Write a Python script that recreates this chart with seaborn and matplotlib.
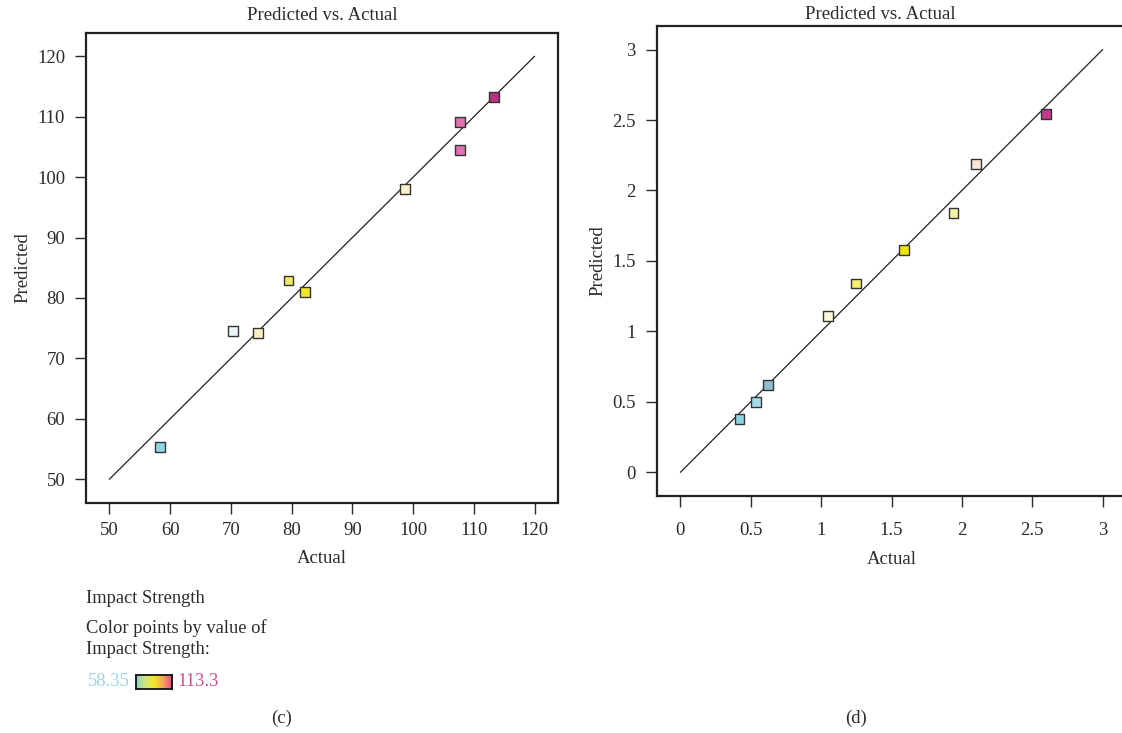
import numpy as np
import pandas as pd
import matplotlib
matplotlib.use("Agg")
import matplotlib.pyplot as plt
from matplotlib.colors import LinearSegmentedColormap
import seaborn as sns

# ---- data ----
c_actual = [58.35, 70.4, 74.5, 79.5, 82.2, 98.7, 107.7, 107.7, 113.3]
c_predicted = [55.3, 74.6, 74.2, 82.9, 81.0, 98.0, 109.1, 104.5, 113.2]
c_colors = ["#8dd5e3", "#eaf4f7", "#f8f0c0", "#f1eb5e", "#f1e72e",
            "#faf0cc", "#e070b0", "#e070b0", "#b8327f"]
c_ticks = [50, 60, 70, 80, 90, 100, 110, 120]
c_line = [50, 120]

d_actual = [0.42, 0.54, 0.62, 1.05, 1.25, 1.59, 1.94, 2.10, 2.60]
d_predicted = [0.38, 0.50, 0.62, 1.11, 1.34, 1.58, 1.84, 2.19, 2.54]
d_colors = ["#8fd5e6", "#a5dced", "#8dbfcf", "#fbf8dc", "#f4ed6e",
            "#efe300", "#f8f2a2", "#fce5d2", "#c03a8d"]
d_ticks = [0, 0.5, 1, 1.5, 2, 2.5, 3]
d_tick_labels = ["0", "0.5", "1", "1.5", "2", "2.5", "3"]
d_line = [0, 3]

legend_min, legend_max = "58.35", "113.3"

sns.set_style("ticks")
plt.rcParams["font.family"] = ["Liberation Serif", "DejaVu Serif"]
TXT = "#2b2b2b"
plt.rcParams["text.color"] = TXT
plt.rcParams["axes.labelcolor"] = TXT
plt.rcParams["xtick.color"] = "#2b2b2b"
plt.rcParams["ytick.color"] = "#2b2b2b"

W, H = 1122, 733
fig = plt.figure(figsize=(W / 100, H / 100), dpi=100)
FS = 13.5


def px_axes(l, t, r, b):
    return fig.add_axes([l / W, 1 - b / H, (r - l) / W, (b - t) / H])


def draw(ax, actual, pred, colors, line, lims, ticks, ticklabels, xpad):
    df = pd.DataFrame({"Actual": actual, "Predicted": pred,
                       "id": [str(i) for i in range(len(actual))]})
    sns.lineplot(x=line, y=line, ax=ax, color="#222222", linewidth=0.9,
                 zorder=1)
    sns.scatterplot(data=df, x="Actual", y="Predicted", hue="id",
                    palette=colors, marker="s", s=50, edgecolor="#333333",
                    linewidth=1.0, legend=False, ax=ax, zorder=3)
    ax.set_xlim(*lims)
    ax.set_ylim(*lims)
    ax.set_xticks(ticks)
    ax.set_yticks(ticks)
    ax.set_xticklabels(ticklabels)
    ax.set_yticklabels(ticklabels)
    for s in ax.spines.values():
        s.set_linewidth(1.6)
        s.set_color("#222222")
    ax.tick_params(axis="both", length=8, width=1.0, labelsize=FS)
    ax.tick_params(axis="x", pad=xpad)
    ax.tick_params(axis="y", pad=7)
    ax.set_xlabel("Actual", fontsize=FS)
    ax.set_ylabel("Predicted", fontsize=FS)


# left panel (c)
ax1 = px_axes(86, 33, 558, 502.5)
draw(ax1, c_actual, c_predicted, c_colors, c_line, (46.15, 123.85),
     c_ticks, [str(t) for t in c_ticks], xpad=6)
ax1.set_title("Predicted vs. Actual", fontsize=FS, pad=9)
ax1.xaxis.labelpad = 8
ax1.yaxis.labelpad = 4

# right panel (d)
ax2 = px_axes(656.7, 25.9, 1126.3, 496)
draw(ax2, d_actual, d_predicted, d_colors, d_line, (-0.168, 3.168),
     d_ticks, d_tick_labels, xpad=11)
ax2.set_title("Predicted vs. Actual", fontsize=FS, pad=5, x=0.4755)
ax2.xaxis.labelpad = 8
ax2.yaxis.labelpad = 4.5

# colour legend for (c)
fs = 13.3
fig.text(86 / W, 1 - 598.3 / H, "Impact Strength", fontsize=fs, va="center")
fig.text(86 / W, 1 - 628.3 / H, "Color points by value of", fontsize=fs,
         va="center")
fig.text(86 / W, 1 - 650 / H, "Impact Strength:", fontsize=fs, va="center")
fig.text(88 / W, 1 - 682 / H, legend_min, fontsize=fs, va="center",
         color="#9ad6e2")
fig.text(177.5 / W, 1 - 682 / H, legend_max, fontsize=fs, va="center",
         color="#d64a9a")

cmap = LinearSegmentedColormap.from_list(
    "de", ["#8ccfc8", "#cfe57e", "#f2e820", "#f5a060", "#e8408a"])
cax = px_axes(135.5, 675, 172.3, 689.3)
cax.imshow(np.linspace(0, 1, 200)[None, :], aspect="auto", cmap=cmap)
cax.set_xticks([])
cax.set_yticks([])
for s in cax.spines.values():
    s.set_linewidth(1.3)
    s.set_color("#111111")

fig.text(281.7 / W, 1 - 718.3 / H, "(c)", fontsize=FS, ha="center",
         va="center")
fig.text(855.7 / W, 1 - 718.3 / H, "(d)", fontsize=FS, ha="center",
         va="center")

fig.savefig("out.png", dpi=100)
